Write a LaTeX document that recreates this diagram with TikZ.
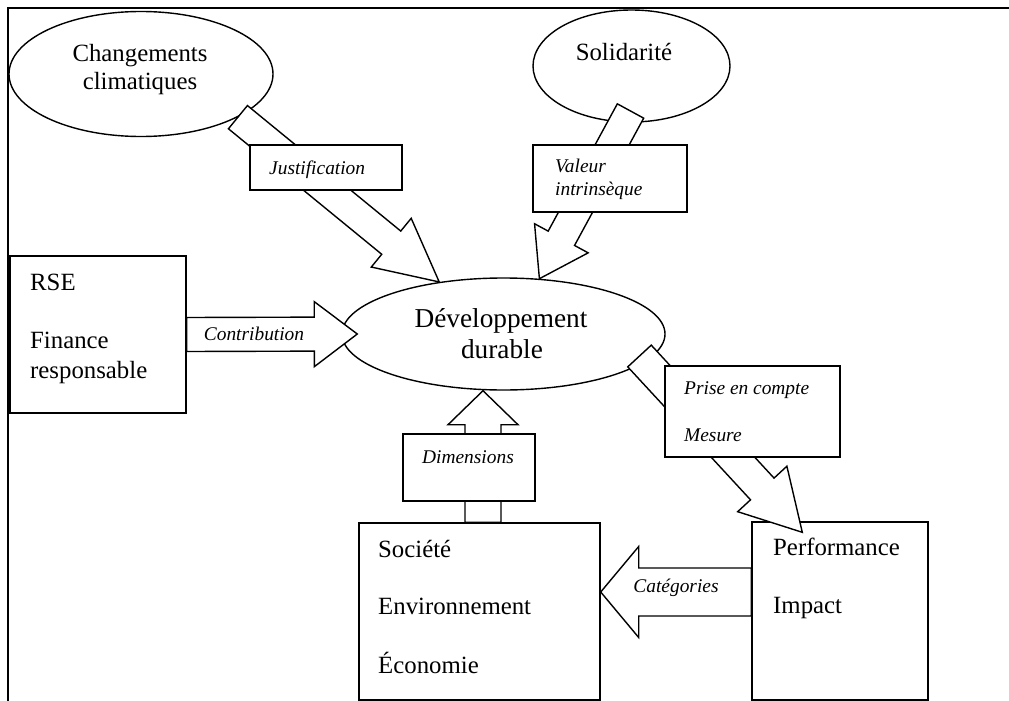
\documentclass[tikz,border=0pt]{standalone}
\usepackage{fontspec}
\setmainfont{Liberation Serif}
\usetikzlibrary{shapes.geometric,calc}

\tikzset{
  wire/.style={line width=1.4pt},
  bubble/.style={draw, ellipse, line width=1.4pt, inner sep=0pt},
  panel/.style={draw, rectangle, fill=white, line width=1.4pt, inner sep=0pt},
  fat/.style={draw, fill=white, line width=1.4pt, line join=miter},
  txt/.style={inner sep=0pt, anchor=base west, font=\fontsize{24.8}{29}\selectfont},
  ctxt/.style={txt, anchor=base},
  big/.style={inner sep=0pt, anchor=base, font=\fontsize{27.3}{32}\selectfont},
  tag/.style={inner sep=0pt, anchor=base west, font=\fontsize{19.4}{23}\selectfont\itshape},
  ctag/.style={tag, anchor=base},
}

% block arrow: tail, tip, shaft half width, head half width, head length
\newcommand{\fatarrow}[5]{%
  \coordinate (fa-h) at ($(#2)!#5!(#1)$);
  \draw[fat] ($(#1)!#3!90:(#2)$) -- ($(fa-h)!#3!90:(#2)$) -- ($(fa-h)!#4!90:(#2)$) -- (#2)
    -- ($(fa-h)!#4!-90:(#2)$) -- ($(fa-h)!#3!-90:(#2)$) -- ($(#1)!#3!-90:(#2)$) -- cycle;}

\begin{document}
\begin{tikzpicture}[x=1pt,y=-1pt]
\useasboundingbox (0,0) rectangle (1009,701);
% Drawing frame
\draw[wire] (1009,8) -- (8,8) -- (8,701);
% Drawing ellipses
\node[bubble, minimum width=264pt, minimum height=125pt] (cc) at (141,74) {};
\node[bubble, minimum width=197pt, minimum height=112pt] (sol) at (631.5,66) {};
\node[bubble, minimum width=323pt, minimum height=112pt] (dd) at (503.5,334) {};
% Drawing main boxes
\node[panel, minimum width=176pt, minimum height=157pt] (rse) at (98,334.5) {};
\node[panel, minimum width=241pt, minimum height=177pt] (soc) at (479.5,611.5) {};
\node[panel, minimum width=176pt, minimum height=178pt] (per) at (840,611) {};
% Arrow ends
\coordinate (cc-out) at (cc.-24);
\coordinate (sol-out) at ([shift={(-1,45)}]sol.center);
\coordinate (dd-out) at ([shift={(136,22)}]dd.center);
\coordinate (per-in) at ([shift={(51,11)}]per.north west);
\coordinate (con-tip) at ([shift={(16,0)}]dd.west);
\coordinate (dim-tip) at ([shift={(-20.5,0)}]dd.south);
\coordinate (dim-tail) at (soc.north -| dim-tip);
\coordinate (cat-tail) at ([shift={(0,-19)}]per.west);
\coordinate (cat-tip) at (soc.east |- cat-tail);
% Drawing block arrows
\fatarrow{cc-out}{dd.141}{15pt}{31.5pt}{62pt}
\fatarrow{sol-out}{dd.57}{15pt}{30.5pt}{46pt}
\fatarrow{dd-out}{per-in}{16pt}{33.5pt}{59pt}
\fatarrow{rse.east}{con-tip}{17pt}{32.5pt}{43pt}
\fatarrow{dim-tail}{dim-tip}{18pt}{35pt}{34pt}
\fatarrow{cat-tail}{cat-tip}{24pt}{45.5pt}{38pt}
% Drawing label boxes
\node[panel, minimum width=152pt, minimum height=45pt] (jus) at (326,167.5) {};
\node[panel, minimum width=154pt, minimum height=67pt] (val) at (610,178.5) {};
\node[panel, minimum width=132pt, minimum height=67pt] (dim) at (469,467.5) {};
\node[panel, minimum width=175pt, minimum height=91pt] (pri) at (752.5,411.5) {};
% Drawing texts
\node[ctxt] (cc-a) at (140,62) {Changements};
\node[ctxt] (cc-b) at (140,89) {climatiques};
\node[ctxt] (sol-a) at (624,60) {Solidarité};
\node[big] (dd-a) at (501,327) {Développement};
\node[big] (dd-b) at (502,358) {durable};
\node[txt] (rse-a) at (30,290) {RSE};
\node[txt] (rse-b) at (30,348) {Finance};
\node[txt] (rse-c) at (30,378) {responsable};
\node[txt] (soc-a) at (378,557) {Société};
\node[txt] (soc-b) at (378,614) {Environnement};
\node[txt] (soc-c) at (378,673) {Économie};
\node[txt] (per-a) at (773,555) {Performance};
\node[txt] (per-b) at (773,613) {Impact};
% Drawing tags
\node[tag] (jus-a) at (269,174) {Justification};
\node[tag] (val-a) at (555,172) {Valeur};
\node[tag] (val-b) at (555,195) {intrinsèque};
\node[ctag] (con-a) at (254,340) {Contribution};
\node[ctag] (dim-a) at (468,463) {Dimensions};
\node[tag] (pri-a) at (684,394) {Prise en compte};
\node[tag] (pri-b) at (684,441) {Mesure};
\node[ctag] (cat-a) at (676,592) {Catégories};
\end{tikzpicture}
\end{document}
